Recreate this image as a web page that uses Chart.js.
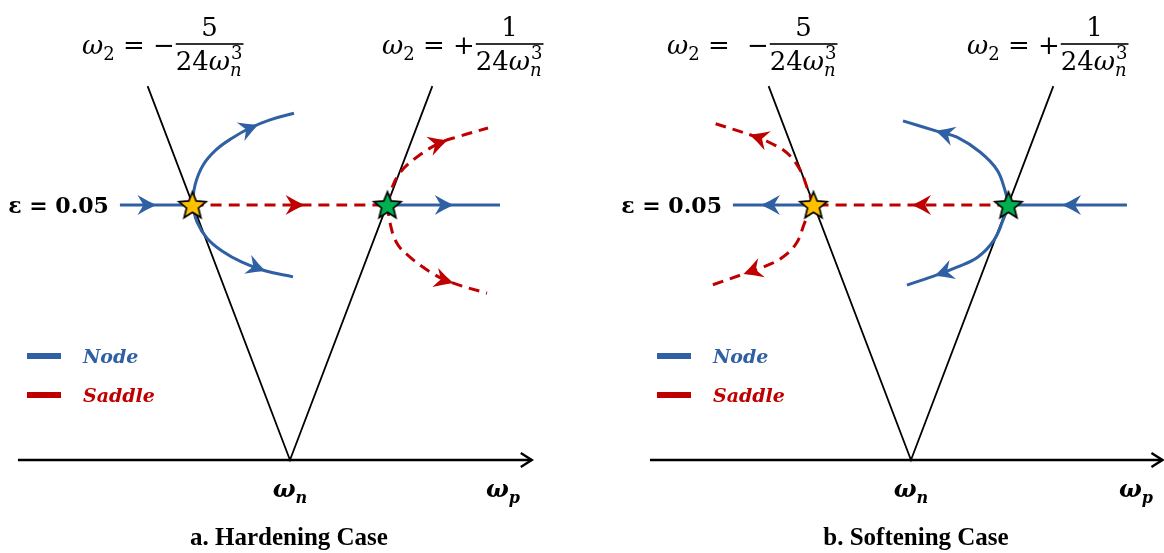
<!DOCTYPE html>
<html lang="en">
<head>
<meta charset="UTF-8">
<title>Hardening / Softening bifurcation sketch</title>
<style>
  body { margin: 0; background: #fff; }
  .wrap { position: relative; width: 1164px; height: 553px; }
  canvas { position: absolute; top: 0; }
</style>
</head>
<body>
<div class="wrap">
  <canvas id="chartA" width="582" height="553" style="left:0"></canvas>
  <canvas id="chartB" width="582" height="553" style="left:582px"></canvas>
</div>
<script src="https://cdn.jsdelivr.net/npm/chart.js@4.4.1/dist/chart.umd.min.js"></script>
<script>
// x = omega_p - omega_n, scaled so the two bifurcation points sit at -1 and +1
// y = epsilon
const epsLevel = 0.05;
const vBranches = [[-1.46, 0.0733], [0, 0], [1.46, 0.0733]];
const starLeft = [[-1, 0.05]];
const starRight = [[1, 0.05]];

// a. hardening
const aAxis = [[-2.79, 0], [2.48, 0]];
const aNodeIn = [[-1.744, 0.05], [-1, 0.05]];
const aSaddleMid = [[-1, 0.05], [1, 0.05]];
const aNodeOut = [[1, 0.05], [2.154, 0.05]];
const aNodeUp = [[-1, 0.05], [-0.974, 0.0539], [-0.892, 0.0578], [-0.759, 0.0608], [-0.595, 0.0631], [-0.41, 0.0651], [-0.205, 0.0667], [0.041, 0.068]];
const aNodeDown = [[-1, 0.05], [-0.954, 0.0467], [-0.851, 0.0435], [-0.697, 0.041], [-0.492, 0.0388], [-0.256, 0.0371], [0.031, 0.0359]];
const aSaddleUp = [[1, 0.05], [1.036, 0.0529], [1.128, 0.0563], [1.303, 0.0594], [1.538, 0.0622], [1.744, 0.0635], [2.031, 0.0651]];
const aSaddleDown = [[1, 0.05], [1.026, 0.0465], [1.097, 0.0425], [1.231, 0.0398], [1.436, 0.0369], [1.641, 0.0349], [2.021, 0.0327]];

// b. softening
const bAxis = [[-2.677, 0], [2.579, 0]];
const bNodeIn = [[2.215, 0.05], [1, 0.05]];
const bSaddleMid = [[1, 0.05], [-1, 0.05]];
const bNodeOut = [[-1, 0.05], [-1.826, 0.05]];
const bSaddleUp = [[-1, 0.05], [-1.056, 0.0529], [-1.138, 0.0569], [-1.272, 0.0602], [-1.446, 0.0622], [-1.579, 0.0633], [-2.062, 0.0663]];
const bSaddleDown = [[-1, 0.05], [-1.087, 0.0467], [-1.169, 0.0427], [-1.313, 0.0398], [-1.518, 0.0378], [-1.682, 0.0367], [-2.041, 0.0343]];
const bNodeUp = [[1, 0.05], [0.964, 0.0529], [0.882, 0.0569], [0.708, 0.0604], [0.472, 0.0633], [0.297, 0.0643], [-0.082, 0.0665]];
const bNodeDown = [[1, 0.05], [0.946, 0.0471], [0.851, 0.0431], [0.687, 0.0398], [0.472, 0.0378], [0.267, 0.0363], [-0.041, 0.0343]];

const legendLabels = ['Node', 'Saddle'];

const BLUE = '#3060A4';
const RED = '#C00000';
const SERIF = '"DejaVu Serif"';

const pts = arr => arr.map(p => ({ x: p[0], y: p[1] }));

function starImage(fill) {
  const c = document.createElement('canvas');
  c.width = c.height = 34;
  const g = c.getContext('2d');
  g.beginPath();
  for (let i = 0; i < 10; i++) {
    const r = i % 2 ? 6.3 : 14.3;
    const a = -Math.PI / 2 + i * Math.PI / 5;
    g.lineTo(17 + r * Math.cos(a), 18 + r * Math.sin(a));
  }
  g.closePath();
  g.fillStyle = fill;
  g.fill();
  g.lineWidth = 1.7;
  g.strokeStyle = '#000';
  g.stroke();
  return c;
}

function drawHead(ctx, x, y, ang, color, type) {
  ctx.save();
  ctx.translate(x, y);
  ctx.rotate(ang);
  ctx.setLineDash([]);
  if (type === 'open') {
    ctx.strokeStyle = color;
    ctx.lineWidth = 2.4;
    ctx.beginPath();
    ctx.moveTo(-11, -7);
    ctx.lineTo(0, 0);
    ctx.lineTo(-11, 7);
    ctx.stroke();
  } else {
    ctx.fillStyle = color;
    ctx.beginPath();
    ctx.moveTo(1, 0);
    ctx.quadraticCurveTo(-8, -4, -18, -10);
    ctx.lineTo(-12, 0);
    ctx.lineTo(-18, 10);
    ctx.quadraticCurveTo(-8, 4, 1, 0);
    ctx.closePath();
    ctx.fill();
  }
  ctx.restore();
}

const arrowPlugin = {
  id: 'flowArrows',
  afterDatasetsDraw(chart) {
    const ctx = chart.ctx;
    chart.data.datasets.forEach((ds, i) => {
      if (ds.arrowAt === undefined) return;
      const p = chart.getDatasetMeta(i).data.map(e => [e.x, e.y]);
      const seg = [];
      let total = 0;
      for (let k = 1; k < p.length; k++) {
        const l = Math.hypot(p[k][0] - p[k - 1][0], p[k][1] - p[k - 1][1]);
        seg.push(l);
        total += l;
      }
      let rest = ds.arrowAt * total, k = 0;
      while (k < seg.length - 1 && rest > seg[k]) { rest -= seg[k]; k++; }
      const t = Math.min(1, rest / seg[k]);
      const x = p[k][0] + (p[k + 1][0] - p[k][0]) * t;
      const y = p[k][1] + (p[k + 1][1] - p[k][1]) * t;
      const ang = Math.atan2(p[k + 1][1] - p[k][1], p[k + 1][0] - p[k][0]);
      drawHead(ctx, x, y, ang, ds.borderColor, ds.arrowType);
    });
  }
};

// text runs: [text, font, dy]
function runs(ctx, x, y, parts) {
  for (const [t, f, dy] of parts) {
    ctx.font = f;
    ctx.fillText(t, x, y + (dy || 0));
    x += ctx.measureText(t).width;
  }
  return x;
}

function drawFormula(ctx, x, base, sign, num, gap) {
  const s = 26;
  const reg = `${s}px ${SERIF}`, it = `italic ${s}px ${SERIF}`, sm = `${Math.round(s * 0.68)}px ${SERIF}`, smIt = `italic ${Math.round(s * 0.68)}px ${SERIF}`;
  ctx.fillStyle = '#000';
  ctx.textAlign = 'left';
  ctx.textBaseline = 'alphabetic';
  let cx = runs(ctx, x, base, [['ω', it], ['2', sm, 6], [' = ', reg]]);
  cx += gap;
  cx = runs(ctx, cx, base, [[sign, reg]]) + 1;
  ctx.font = reg; const w24 = ctx.measureText('24').width;
  ctx.font = it; const wOm = ctx.measureText('ω').width;
  ctx.font = sm; const wSub = ctx.measureText('3').width;
  const w = w24 + wOm + wSub + 2;
  const bar = base - 10;
  ctx.fillRect(cx, bar - 0.8, w, 1.6);
  ctx.font = reg;
  ctx.textAlign = 'center';
  ctx.fillText(num, cx + w / 2, bar - 8);
  ctx.textAlign = 'left';
  const dx = runs(ctx, cx, bar + 26, [['24', reg], ['ω', it]]);
  runs(ctx, dx, bar + 26, [['n', smIt, 6]]);
  runs(ctx, dx + 1, bar + 26, [['3', sm, -11]]);
}

function makePanel(id, cfg) {
  const datasets = [
    { data: pts(starLeft), pointStyle: starImage('#FFC000'), pointRadius: 12, showLine: false },
    { data: pts(starRight), pointStyle: starImage('#00B050'), pointRadius: 12, showLine: false }
  ];
  const flow = (data, color, arrowAt, dashed) => ({
    data: pts(data), showLine: true, borderColor: color, borderWidth: 3,
    borderDash: dashed ? [11, 7] : [], tension: 0.4, pointRadius: 0, arrowAt
  });
  for (const f of cfg.flows) datasets.push(flow(...f));
  datasets.push({ data: pts(vBranches), showLine: true, borderColor: '#000', borderWidth: 1.8, tension: 0, pointRadius: 0 });
  datasets.push({ data: pts(cfg.axis), showLine: true, borderColor: '#000', borderWidth: 2.5, tension: 0, pointRadius: 0, arrowAt: 1, arrowType: 'open' });

  const textPlugin = {
    id: 'panelText',
    afterDraw(chart) {
      const ctx = chart.ctx;
      const xs = chart.scales.x, ys = chart.scales.y;
      const px = v => xs.getPixelForValue(v), py = v => ys.getPixelForValue(v);
      ctx.save();
      // epsilon level label
      ctx.fillStyle = '#000';
      ctx.textAlign = 'right';
      ctx.textBaseline = 'alphabetic';
      ctx.font = `bold 22px ${SERIF}`;
      ctx.fillText('ε = 0.05', px(cfg.epsFrom) - 11, py(epsLevel) + 8);
      // branch formulas
      drawFormula(ctx, cfg.fLeft, 54, '−', '5', cfg.gapLeft);
      drawFormula(ctx, cfg.fRight, 54, '+', '1', 0);
      // legend
      [BLUE, RED].forEach((c, i) => {
        const y = cfg.legY + i * 39;
        ctx.fillStyle = c;
        ctx.fillRect(cfg.legX, y - 3, 34, 6);
        ctx.font = `italic bold 19px ${SERIF}`;
        ctx.textAlign = 'left';
        ctx.fillText(legendLabels[i], cfg.legX + 56, y + 7);
      });
      // axis labels
      ctx.fillStyle = '#000';
      ctx.textAlign = 'left';
      const lab = (cx, sub) => {
        ctx.font = `italic bold 24px ${SERIF}`;
        const w1 = ctx.measureText('ω').width;
        ctx.font = `italic bold 16px ${SERIF}`;
        const w2 = ctx.measureText(sub).width;
        runs(ctx, cx - (w1 + w2) / 2, 497, [['ω', `italic bold 24px ${SERIF}`], [sub, `italic bold 16px ${SERIF}`, 6]]);
      };
      lab(px(0), 'n');
      lab(cfg.wpX, 'p');
      // caption
      ctx.textAlign = 'center';
      ctx.font = 'bold 25px "Liberation Serif"';
      ctx.fillText(cfg.caption, px(0) + cfg.capDx, 545);
      ctx.restore();
    }
  };

  new Chart(document.getElementById(id), {
    type: 'scatter',
    data: { datasets },
    options: {
      responsive: false,
      animation: false,
      events: [],
      layout: { padding: 0, autoPadding: false },
      scales: {
        x: { type: 'linear', display: false, min: cfg.xMin, max: cfg.xMax },
        y: { type: 'linear', display: false, min: -0.01824, max: 0.0902 }
      },
      plugins: { legend: { display: false }, tooltip: { enabled: false } }
    },
    plugins: [arrowPlugin, textPlugin]
  });
}

makePanel('chartA', {
  xMin: -2.974, xMax: 2.995, axis: aAxis, epsFrom: aNodeIn[0][0],
  flows: [
    [aNodeUp, BLUE, 0.74], [aNodeDown, BLUE, 0.78], [aSaddleUp, RED, 0.68, true], [aSaddleDown, RED, 0.75, true],
    [aNodeIn, BLUE, 0.49], [aSaddleMid, RED, 0.57, true], [aNodeOut, BLUE, 0.58]
  ],
  fLeft: 82, fRight: 382, gapLeft: 0,
  legX: 27, legY: 356, wpX: 503, caption: 'a. Hardening Case', capDx: -1
});

makePanel('chartB', {
  xMin: -3.374, xMax: 2.595, axis: bAxis, epsFrom: bNodeOut[1][0],
  flows: [
    [bSaddleUp, RED, 0.70, true], [bSaddleDown, RED, 0.75, true], [bNodeUp, BLUE, 0.76], [bNodeDown, BLUE, 0.78],
    [bNodeIn, BLUE, 0.54], [bSaddleMid, RED, 0.49, true], [bNodeOut, BLUE, 0.64]
  ],
  fLeft: 85, fRight: 385, gapLeft: 9,
  legX: 75, legY: 356, wpX: 554, caption: 'b. Softening Case', capDx: 5
});
</script>
</body>
</html>
